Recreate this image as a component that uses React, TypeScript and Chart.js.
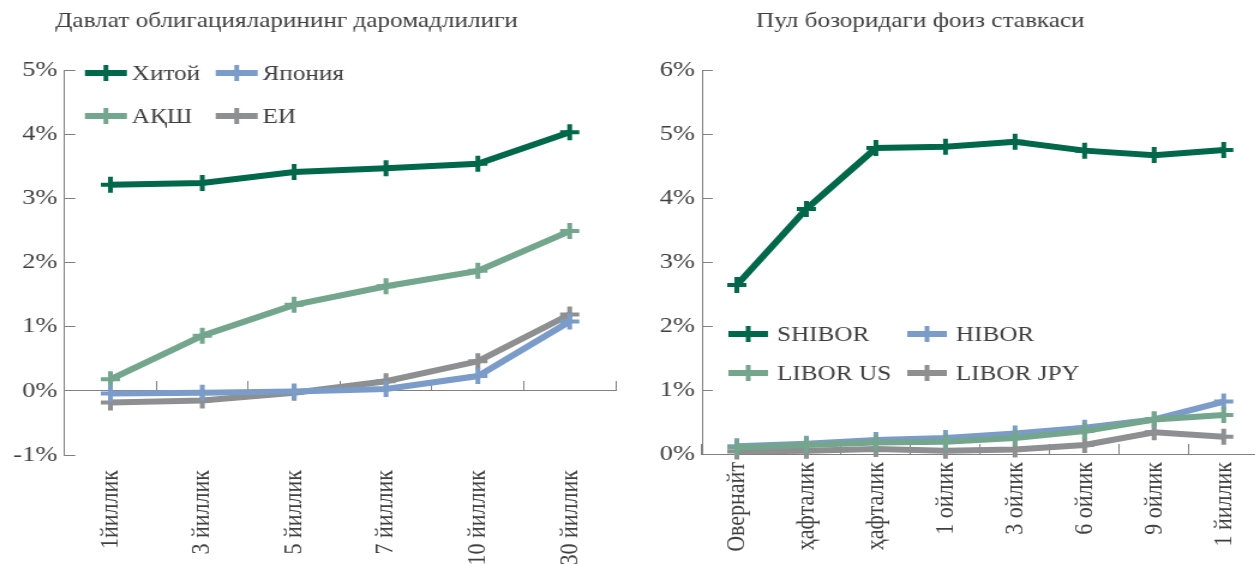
import React, { useEffect, useRef } from "react";
import { Chart, registerables } from "chart.js";

Chart.register(...registerables);

// ---- data ----
const bondCategories = ["1йиллик", "3 йиллик", "5 йиллик", "7 йиллик", "10 йиллик", "30 йиллик"];
const chinaYield = [3.21, 3.24, 3.41, 3.47, 3.54, 4.03];
const japanYield = [-0.04, -0.03, -0.01, 0.03, 0.23, 1.08];
const usaYield = [0.18, 0.86, 1.34, 1.63, 1.87, 2.49];
const euYield = [-0.18, -0.15, -0.03, 0.15, 0.46, 1.19];
const bondSeriesNames = ["Хитой", "Япония", "АҚШ", "ЕИ"];
const bondTicks = [-1, 0, 1, 2, 3, 4, 5];

const moneyCategories = ["Овернайт", "ҳафталик", "ҳафталик", "1 ойлик", "3 ойлик", "6 ойлик", "9 ойлик", "1 йиллик"];
const shibor = [2.64, 3.83, 4.78, 4.8, 4.88, 4.74, 4.67, 4.75];
const hibor = [0.12, 0.16, 0.22, 0.25, 0.32, 0.41, 0.54, 0.82];
const liborUs = [0.1, 0.14, 0.18, 0.19, 0.25, 0.36, 0.54, 0.61];
const liborJpy = [0.04, 0.05, 0.08, 0.05, 0.07, 0.14, 0.34, 0.27];
const moneySeriesNames = ["SHIBOR", "HIBOR", "LIBOR US", "LIBOR JPY"];
const moneyTicks = [0, 1, 2, 3, 4, 5, 6];

const bondTitle = "Давлат облигацияларининг даромадлилиги";
const moneyTitle = "Пул бозоридаги фоиз ставкаси";

// ---- style ----
const SX = 1.2; // horizontal stretch of the source picture
const H = 564;
const FONT = "'Liberation Serif', 'Times New Roman', serif";
const TEXT = "#3f3f3f";
const AXIS = "#808080";
const C_DARK = "#00684a";
const C_BLUE = "#7b9cc8";
const C_LIGHT = "#74a68e";
const C_GRAY = "#8e8f91";

const decorPlugin = {
  id: "decor",
  afterDraw(chart: any, _args: any, opts: any) {
    const ctx = chart.ctx;
    const area = chart.chartArea;
    ctx.save();
    if (opts.title) {
      ctx.font = `${opts.title.size}px ${FONT}`;
      ctx.fillStyle = TEXT;
      ctx.textAlign = "left";
      ctx.textBaseline = "alphabetic";
      ctx.fillText(opts.title.text, opts.title.x, opts.title.y);
    }
    if (opts.legend) {
      const L = opts.legend;
      chart.data.datasets.forEach((ds: any, i: number) => {
        const col = i % 2;
        const row = Math.floor(i / 2);
        const x = area.left + L.x + col * L.colGap;
        const y = area.top + L.y + row * L.rowGap;
        ctx.strokeStyle = ds.borderColor;
        ctx.lineCap = "butt";
        ctx.lineWidth = ds.borderWidth;
        ctx.beginPath();
        ctx.moveTo(x, y);
        ctx.lineTo(x + L.len, y);
        ctx.stroke();
        ctx.lineWidth = ds.pointBorderWidth;
        ctx.beginPath();
        ctx.moveTo(x + L.len / 2, y - ds.pointRadius);
        ctx.lineTo(x + L.len / 2, y + ds.pointRadius);
        ctx.stroke();
        ctx.font = `${L.size}px ${FONT}`;
        ctx.fillStyle = TEXT;
        ctx.textAlign = "left";
        ctx.textBaseline = "middle";
        ctx.fillText(ds.label, x + L.len + L.gap, y + 1);
      });
    }
    ctx.restore();
  },
};

function lineDs(label: string, data: number[], color: string, order: number) {
  return {
    label,
    data,
    borderColor: color,
    backgroundColor: color,
    borderWidth: 6,
    pointStyle: "cross",
    pointRadius: 8,
    pointBorderWidth: 4,
    pointBorderColor: color,
    pointHoverRadius: 8,
    tension: 0,
    clip: false,
    order,
  };
}

const tickFont = { family: FONT, size: 22 };

function bondConfig(): any {
  return {
    type: "line",
    data: {
      labels: bondCategories,
      datasets: [
        lineDs(bondSeriesNames[0], chinaYield, C_DARK, 0),
        lineDs(bondSeriesNames[1], japanYield, C_BLUE, 1),
        lineDs(bondSeriesNames[2], usaYield, C_LIGHT, 2),
        lineDs(bondSeriesNames[3], euYield, C_GRAY, 3),
      ],
    },
    plugins: [decorPlugin],
    options: {
      responsive: false,
      animation: false,
      devicePixelRatio: 1,
      layout: { padding: { top: 70, right: 5.5, bottom: 0, left: 0 } },
      plugins: {
        legend: { display: false },
        tooltip: { enabled: false },
        decor: {
          title: { text: bondTitle, x: 46, y: 27, size: 21 },
          legend: { x: 17, y: 3, colGap: 109, rowGap: 43, len: 35, gap: 4, size: 21 },
        },
      },
      scales: {
        x: {
          type: "category",
          offset: true,
          position: "bottom",
          grid: { display: false },
          border: { display: false },
          ticks: { autoSkip: false, minRotation: 90, maxRotation: 90, padding: 7, color: TEXT, font: tickFont },
          afterFit: (s: any) => { s.height = 109; },
        },
        x0: {
          type: "category",
          offset: true,
          position: { y: 0 },
          grid: { display: true, drawOnChartArea: false, drawTicks: true, tickLength: -10, color: AXIS, offset: true, lineWidth: 1 },
          border: { display: true, color: AXIS, width: 1 },
          ticks: { display: false },
        },
        y: {
          type: "linear",
          min: bondTicks[0],
          max: bondTicks[bondTicks.length - 1],
          afterBuildTicks: (s: any) => { s.ticks = bondTicks.map((v) => ({ value: v })); },
          ticks: { callback: (v: any) => v + "%", padding: 15, color: TEXT, font: tickFont },
          grid: { drawOnChartArea: false, tickLength: -9, color: AXIS, lineWidth: 1 },
          border: { display: true, color: AXIS, width: 1 },
          afterFit: (s: any) => { s.width = 53.75; },
        },
      },
    },
  };
}

function moneyConfig(): any {
  return {
    type: "line",
    data: {
      labels: moneyCategories,
      datasets: [
        lineDs(moneySeriesNames[0], shibor, C_DARK, 0),
        lineDs(moneySeriesNames[1], hibor, C_BLUE, 2),
        lineDs(moneySeriesNames[2], liborUs, C_LIGHT, 1),
        lineDs(moneySeriesNames[3], liborJpy, C_GRAY, 3),
      ],
    },
    plugins: [decorPlugin],
    options: {
      responsive: false,
      animation: false,
      devicePixelRatio: 1,
      layout: { padding: { top: 70, right: 13.3, bottom: 0, left: 0 } },
      plugins: {
        legend: { display: false },
        tooltip: { enabled: false },
        decor: {
          title: { text: moneyTitle, x: 105, y: 27, size: 21 },
          legend: { x: 22, y: 264, colGap: 149, rowGap: 39, len: 33, gap: 7.5, size: 21 },
        },
      },
      scales: {
        x: {
          type: "category",
          offset: true,
          position: "bottom",
          grid: { display: true, drawOnChartArea: false, drawTicks: true, tickLength: -10, color: AXIS, offset: true, lineWidth: 1 },
          border: { display: true, color: AXIS, width: 1 },
          ticks: { autoSkip: false, minRotation: 90, maxRotation: 90, padding: 18, color: TEXT, font: tickFont },
          afterFit: (s: any) => { s.height = 110; },
        },
        y: {
          type: "linear",
          min: moneyTicks[0],
          max: moneyTicks[moneyTicks.length - 1],
          afterBuildTicks: (s: any) => { s.ticks = moneyTicks.map((v) => ({ value: v })); },
          ticks: { callback: (v: any) => v + "%", padding: 15, color: TEXT, font: tickFont },
          grid: { drawOnChartArea: false, tickLength: -9, color: AXIS, lineWidth: 1 },
          border: { display: true, color: AXIS, width: 1 },
          afterFit: (s: any) => { s.width = 60; },
        },
      },
    },
  };
}

function ChartCanvas({ makeConfig, left, width }: { makeConfig: () => any; left: number; width: number }) {
  const ref = useRef<HTMLCanvasElement | null>(null);
  useEffect(() => {
    if (!ref.current) return;
    const chart = new Chart(ref.current, makeConfig());
    return () => chart.destroy();
  }, []);
  return (
    <canvas
      ref={ref}
      width={width}
      height={H}
      style={{ position: "absolute", left: left + "px", top: "0px", width: width * SX + "px", height: H + "px" }}
    />
  );
}

export default function App() {
  return (
    <div style={{ position: "fixed", left: 0, top: 0, width: "1255px", height: H + "px", overflow: "hidden", background: "#fff" }}>
      <ChartCanvas makeConfig={bondConfig} left={0} width={525} />
      <ChartCanvas makeConfig={moneyConfig} left={630} width={540} />
    </div>
  );
}
